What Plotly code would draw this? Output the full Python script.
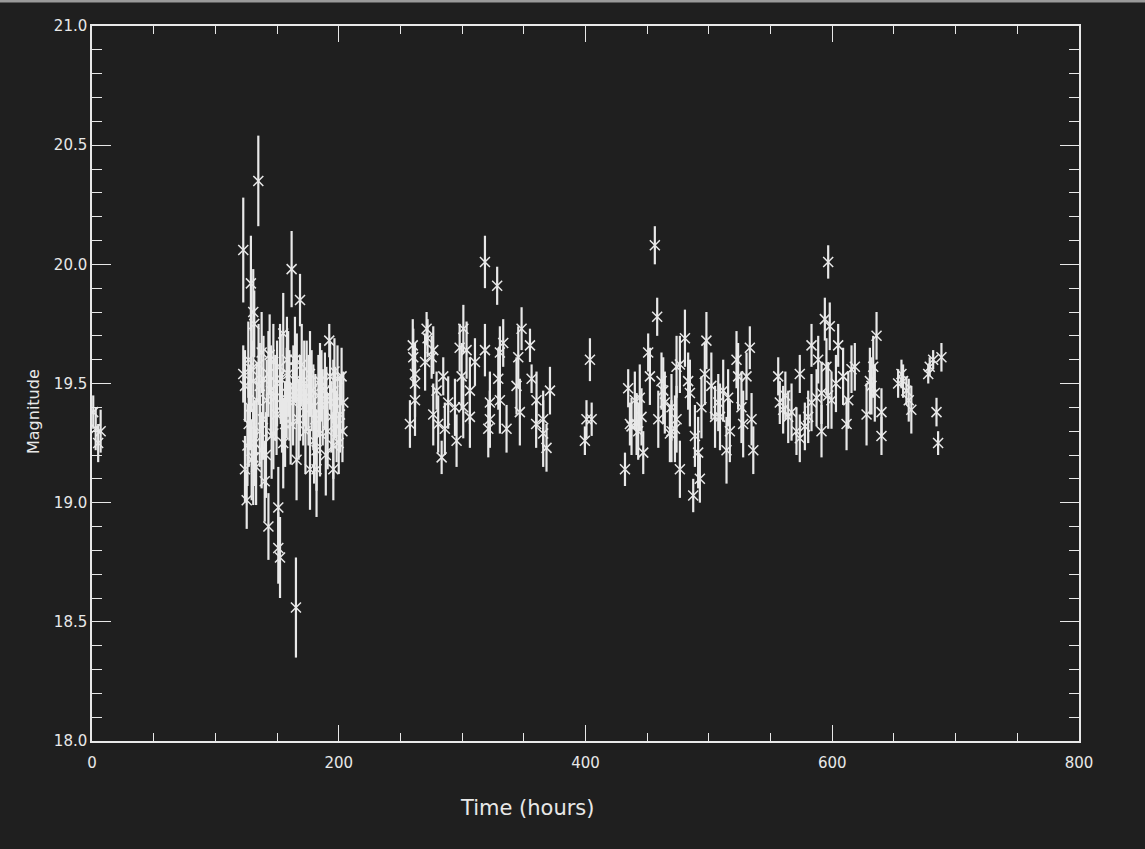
import plotly.graph_objects as go

time_hours = [
    1.0, 3.0, 5.0, 7.0,
    122.6, 122.6, 124.0, 124.0, 125.4, 126.7, 127.0, 128.0, 128.8, 129.4,
    130.7, 130.7, 130.7, 131.5, 132.0, 133.5, 134.8, 135.0, 136.0, 136.0,
    137.5, 137.5, 139.0, 140.0, 141.6, 143.0, 143.0, 145.0, 145.6, 147.0,
    147.0, 149.6, 150.0, 151.0, 151.0, 152.4, 152.4, 154.0, 155.0, 155.0,
    157.8, 158.0, 159.0, 161.0, 161.8, 163.0, 163.2, 165.3, 165.8, 166.0,
    168.6, 168.6, 170.0, 171.2, 173.0, 174.0, 176.7, 176.7, 178.0, 179.4,
    181.0, 182.0, 182.0, 184.8, 184.8, 186.0, 187.0, 188.8, 190.0, 191.0,
    192.3, 193.0, 195.6, 195.6, 195.6, 197.0, 198.3, 199.0, 200.0, 201.0,
    202.3, 203.7,
    126.0, 129.0, 133.0, 138.5, 141.0, 144.0, 148.5, 153.0, 156.5, 160.0,
    164.5, 167.5, 172.0, 175.5, 180.0, 183.5, 189.5, 194.0, 196.5, 203.0,
    257.7, 260.0, 260.4, 261.8, 261.8, 261.8, 270.0, 271.2, 272.0, 275.3,
    276.6, 276.6, 279.3, 280.6, 283.4, 284.7, 286.0, 288.7, 294.2, 295.5,
    298.0, 299.6, 300.9, 301.0, 303.6, 306.3, 306.3, 310.4, 318.5, 318.5,
    321.2, 322.5, 322.5, 328.4, 329.3, 330.6, 330.6, 333.3, 336.0, 344.1,
    345.5, 346.8, 348.2, 355.0, 356.3, 360.0, 360.3, 365.7, 365.7, 368.4,
    371.2,
    399.5, 400.8, 403.6, 405.0,
    432.0, 434.6, 436.0, 437.3, 440.0, 441.4, 442.7, 444.0, 445.4, 446.8,
    450.8, 452.2, 456.2, 458.1, 459.0, 461.6, 463.0, 464.3, 468.4, 469.7,
    469.7, 472.5, 473.8, 473.8, 476.5, 476.5, 480.6, 483.2, 484.6, 487.3,
    488.7, 491.3, 492.7, 494.0, 496.7, 498.0, 502.0, 505.0, 507.6, 509.0,
    511.6, 514.3, 515.6, 517.0, 522.4, 523.7, 526.4, 527.8, 530.5, 533.2,
    534.6, 536.0,
    556.2, 557.5, 560.2, 562.0, 564.3, 567.0, 571.0, 573.7, 573.7, 577.8,
    580.5, 583.2, 583.2, 587.3, 588.6, 591.3, 591.3, 594.0, 595.3, 596.7,
    596.7, 598.0, 599.4, 603.0, 604.8, 608.8, 611.6, 613.0, 615.6, 618.3,
    627.8, 630.5, 631.8, 633.2, 634.5, 635.9, 639.9, 639.9, 653.4, 656.1,
    657.4, 660.1, 662.0, 664.1, 677.8, 679.0, 681.8, 684.5, 685.8, 688.5,
]

magnitude = [
    19.38, 19.31, 19.25, 19.30,
    20.06, 19.54, 19.49, 19.14, 19.01, 19.60, 19.33, 19.40, 19.92, 19.18,
    19.80, 19.51, 19.19, 19.75, 19.25, 19.43, 20.35, 19.58, 19.49, 19.30,
    19.63, 19.22, 19.52, 19.09, 19.43, 19.54, 18.90, 19.47, 19.28, 19.59,
    19.29, 19.37, 19.50, 18.98, 18.81, 19.57, 18.77, 19.38, 19.71, 19.25,
    19.46, 19.60, 19.54, 19.33, 19.98, 19.42, 19.49, 18.56, 19.18, 19.52,
    19.85, 19.44, 19.58, 19.40, 19.30, 19.49, 19.54, 19.14, 19.47, 19.40,
    19.35, 19.14, 19.22, 19.51, 19.29, 19.49, 19.40, 19.47, 19.43, 19.30,
    19.68, 19.53, 19.47, 19.24, 19.14, 19.42, 19.32, 19.52, 19.25, 19.37,
    19.53, 19.42,
    19.24, 19.56, 19.15, 19.35, 19.20, 19.62, 19.44, 19.52, 19.33, 19.45,
    19.60, 19.35, 19.50, 19.43, 19.26, 19.45, 19.20, 19.36, 19.55, 19.30,
    19.33, 19.66, 19.61, 19.54, 19.50, 19.43, 19.59, 19.73, 19.69, 19.61,
    19.64, 19.37, 19.47, 19.33, 19.19, 19.53, 19.31, 19.42, 19.40, 19.26,
    19.65, 19.53, 19.40, 19.73, 19.64, 19.47, 19.36, 19.59, 20.01, 19.64,
    19.31, 19.42, 19.35, 19.91, 19.52, 19.63, 19.43, 19.67, 19.31, 19.49,
    19.61, 19.38, 19.73, 19.66, 19.52, 19.33, 19.43, 19.35, 19.29, 19.23,
    19.47,
    19.26, 19.35, 19.60, 19.35,
    19.14, 19.48, 19.33, 19.32, 19.43, 19.33, 19.30, 19.44, 19.36, 19.21,
    19.63, 19.53, 20.08, 19.78, 19.35, 19.51, 19.47, 19.42, 19.29, 19.40,
    19.30, 19.31, 19.57, 19.35, 19.58, 19.14, 19.69, 19.51, 19.46, 19.03,
    19.28, 19.21, 19.10, 19.40, 19.54, 19.68, 19.49, 19.36, 19.42, 19.36,
    19.47, 19.22, 19.44, 19.30, 19.60, 19.53, 19.40, 19.33, 19.53, 19.65,
    19.35, 19.22,
    19.53, 19.42, 19.39, 19.45, 19.36, 19.38, 19.30, 19.54, 19.27, 19.32,
    19.36, 19.66, 19.42, 19.44, 19.60, 19.46, 19.30, 19.77, 19.57, 20.01,
    19.45, 19.74, 19.43, 19.50, 19.66, 19.53, 19.33, 19.43, 19.56, 19.57,
    19.37, 19.51, 19.49, 19.57, 19.46, 19.70, 19.38, 19.28, 19.50, 19.54,
    19.51, 19.47, 19.43, 19.39, 19.54, 19.57, 19.60, 19.38, 19.25, 19.61,
]

mag_error = [
    0.07, 0.09, 0.08, 0.09,
    0.22, 0.12, 0.15, 0.14, 0.12, 0.16, 0.18, 0.18, 0.20, 0.17,
    0.18, 0.17, 0.20, 0.14, 0.18, 0.16, 0.19, 0.17, 0.18, 0.15,
    0.17, 0.16, 0.18, 0.17, 0.17, 0.18, 0.14, 0.19, 0.18, 0.16,
    0.15, 0.17, 0.18, 0.17, 0.15, 0.18, 0.17, 0.17, 0.17, 0.19,
    0.19, 0.18, 0.18, 0.17, 0.16, 0.18, 0.17, 0.21, 0.17, 0.19,
    0.11, 0.18, 0.17, 0.16, 0.18, 0.19, 0.18, 0.17, 0.17, 0.18,
    0.19, 0.20, 0.17, 0.16, 0.18, 0.15, 0.16, 0.16, 0.14, 0.16,
    0.07, 0.14, 0.13, 0.14, 0.13, 0.15, 0.15, 0.14, 0.13, 0.16,
    0.12, 0.13,
    0.17, 0.18, 0.16, 0.17, 0.18, 0.17, 0.18, 0.19, 0.18, 0.19,
    0.18, 0.17, 0.18, 0.19, 0.18, 0.17, 0.17, 0.15, 0.14, 0.13,
    0.10, 0.11, 0.12, 0.13, 0.14, 0.15, 0.12, 0.07, 0.08, 0.09,
    0.10, 0.13, 0.08, 0.12, 0.07, 0.08, 0.11, 0.11, 0.12, 0.11,
    0.10, 0.14, 0.13, 0.10, 0.12, 0.14, 0.13, 0.10, 0.11, 0.11,
    0.12, 0.13, 0.12, 0.08, 0.13, 0.11, 0.14, 0.10, 0.10, 0.12,
    0.13, 0.14, 0.09, 0.07, 0.06, 0.10, 0.12, 0.12, 0.14, 0.10,
    0.10,
    0.06, 0.08, 0.09, 0.07,
    0.07, 0.08, 0.09, 0.12, 0.12, 0.13, 0.12, 0.14, 0.12, 0.09,
    0.08, 0.12, 0.08, 0.08, 0.12, 0.12, 0.14, 0.13, 0.12, 0.14,
    0.13, 0.14, 0.13, 0.14, 0.12, 0.12, 0.12, 0.12, 0.14, 0.07,
    0.13, 0.15, 0.10, 0.13, 0.13, 0.12, 0.14, 0.13, 0.12, 0.14,
    0.13, 0.14, 0.12, 0.13, 0.12, 0.14, 0.15, 0.14, 0.10, 0.09,
    0.11, 0.10,
    0.08, 0.09, 0.10, 0.10, 0.11, 0.12, 0.10, 0.08, 0.10, 0.10,
    0.11, 0.09, 0.12, 0.12, 0.10, 0.13, 0.11, 0.09, 0.12, 0.07,
    0.14, 0.10, 0.12, 0.12, 0.09, 0.12, 0.11, 0.12, 0.10, 0.10,
    0.13, 0.14, 0.12, 0.13, 0.12, 0.10, 0.10, 0.08, 0.06, 0.06,
    0.07, 0.06, 0.09, 0.10, 0.04, 0.04, 0.04, 0.06, 0.05, 0.06,
]

x_tick_values = [0, 200, 400, 600, 800]
y_tick_values = [18.0, 18.5, 19.0, 19.5, 20.0, 20.5, 21.0]

BG = "#1f1f1f"
FG = "#e8e8e8"
FONT = "DejaVu Sans"

fig = go.Figure()
fig.add_trace(go.Scatter(
    x=time_hours,
    y=magnitude,
    mode="markers",
    marker=dict(symbol="x-thin", size=10, color=FG,
                line=dict(color=FG, width=1.5)),
    error_y=dict(type="data", array=mag_error, visible=True,
                 color=FG, thickness=2.2, width=0),
    showlegend=False,
    hoverinfo="x+y",
))

axis_common = dict(
    showgrid=False, zeroline=False,
    showline=True, linecolor=FG, linewidth=1.5, mirror="allticks",
    ticks="inside", tickcolor=FG, tickwidth=1.4,
    tickfont=dict(family=FONT, size=15, color=FG),
)

fig.update_xaxes(
    range=[0, 800], tickvals=x_tick_values,
    ticktext=[str(v) for v in x_tick_values],
    ticklen=16, ticklabelstandoff=7,
    minor=dict(dtick=50, ticklen=8, ticks="inside", tickcolor=FG, tickwidth=1.4),
    **axis_common,
)
fig.update_yaxes(
    range=[18.0, 21.0], tickvals=y_tick_values,
    ticktext=[f"{v:.1f}" for v in y_tick_values],
    ticklen=19, ticklabelstandoff=0,
    minor=dict(dtick=0.1, ticklen=10, ticks="inside", tickcolor=FG, tickwidth=1.4),
    **axis_common,
)

fig.update_layout(
    width=1145, height=849,
    margin=dict(l=92, r=66, t=26, b=108, autoexpand=False),
    paper_bgcolor=BG, plot_bgcolor=BG,
    font=dict(family=FONT, color=FG),
    annotations=[
        dict(text="Time (hours)", xref="paper", yref="paper",
             x=(527 - 92) / (1079 - 92), y=-(808 - 741) / (741 - 26),
             xanchor="center", yanchor="middle", showarrow=False,
             font=dict(family=FONT, size=21, color=FG)),
        dict(text="Magnitude", xref="paper", yref="paper",
             x=-(92 - 33) / (1079 - 92), y=(741 - 412) / (741 - 26),
             xanchor="center", yanchor="middle", showarrow=False,
             textangle=-90,
             font=dict(family=FONT, size=16, color=FG)),
    ],
    shapes=[
        dict(type="line", xref="paper", yref="paper",
             x0=-92 / 987, x1=(1145 - 92) / 987,
             y0=1 + 25 / 715, y1=1 + 25 / 715,
             line=dict(color="#9a9a9a", width=3)),
    ],
)

fig.write_html(
    "out.html",
    config={"displayModeBar": False},
    post_script="document.body.style.margin='0';"
                "document.body.style.background='#1f1f1f';",
)
